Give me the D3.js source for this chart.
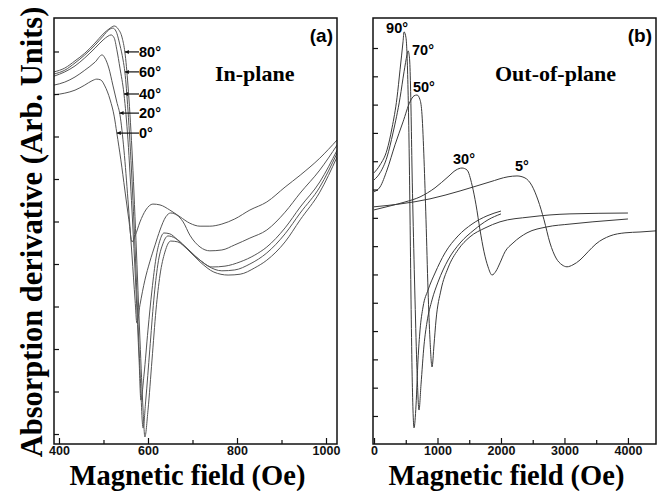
<!DOCTYPE html>
<html>
<head>
<meta charset="utf-8">
<script src="https://cdn.jsdelivr.net/npm/d3@7"></script>
<style>
  body { margin: 0; background: #fff; }
</style>
</head>
<body>
<svg id="chart" width="660" height="491"></svg>
<script>
// (a) in-plane spectra, [field (Oe), signal (arb. units)]
var ip0 = [[389,7.98],[413,8.02],[436,8.09],[458,8.21],[474,8.31],[485,8.35],[494,8.33],[503,8.19],[515,7.86],[524,7.48],[530,7.08],[539,6.45],[548,5.74],[557,5.04],[564,4.52],[571,4.66],[582,4.99],[595,5.27],[611,5.41],[627,5.39],[649,5.27],[672,5.11],[694,4.96],[717,4.89],[739,4.89],[766,4.94],[795,5.06],[829,5.27],[867,5.46],[908,5.81],[942,6.09],[986,6.49],[1025,6.92]];
var ip20 = [[389,8.21],[413,8.28],[436,8.40],[458,8.56],[481,8.75],[497,8.92],[503,8.85],[512,8.61],[521,8.21],[530,7.81],[537,7.51],[546,6.68],[555,5.51],[564,4.21],[571,3.15],[575,2.61],[582,3.04],[593,3.62],[604,4.05],[616,4.45],[627,4.80],[640,5.11],[651,5.20],[665,5.15],[679,4.99],[694,4.68],[717,4.40],[739,4.31],[766,4.33],[795,4.45],[829,4.61],[867,4.80],[908,5.22],[942,5.67],[986,6.21],[1025,6.80]];
var ip40 = [[389,8.42],[413,8.52],[436,8.66],[458,8.85],[481,9.08],[499,9.27],[510,9.36],[517,9.39],[524,9.32],[530,9.04],[537,8.61],[546,8.00],[555,6.92],[564,5.27],[573,3.39],[580,1.74],[584,0.80],[591,1.39],[600,2.45],[609,3.39],[618,4.14],[627,4.56],[636,4.73],[649,4.71],[667,4.56],[690,4.33],[717,4.09],[744,3.93],[773,3.95],[807,4.05],[840,4.21],[867,4.40],[908,4.85],[942,5.34],[986,5.93],[1025,6.68]];
var ip60 = [[389,8.47],[413,8.56],[436,8.73],[458,8.92],[481,9.15],[499,9.36],[512,9.51],[521,9.55],[528,9.48],[537,9.15],[544,8.80],[548,8.52],[555,7.62],[564,5.98],[573,3.86],[582,1.51],[589,0.14],[595,0.80],[604,1.98],[613,3.15],[622,3.98],[634,4.49],[645,4.66],[661,4.61],[683,4.42],[706,4.19],[735,3.95],[766,3.84],[795,3.86],[829,4.00],[867,4.26],[908,4.71],[942,5.20],[986,5.81],[1025,6.61]];
var ip80 = [[389,8.52],[413,8.61],[436,8.78],[458,8.96],[481,9.20],[499,9.41],[515,9.55],[524,9.60],[533,9.53],[542,9.32],[548,8.99],[555,8.21],[564,6.68],[573,4.56],[582,2.21],[589,0.56],[593,-0.07],[600,0.56],[609,1.74],[618,2.92],[627,3.74],[638,4.28],[651,4.54],[667,4.52],[690,4.33],[717,4.05],[748,3.81],[780,3.74],[807,3.76],[840,3.91],[867,4.09],[908,4.52],[942,5.04],[986,5.69],[1025,6.52]];

// (b) out-of-plane spectra
var op90 = [[0,8.59],[95,8.87],[205,9.40],[284,10.18],[362,11.24],[410,12.23],[457,13.22],[473,13.57],[504,13.36],[520,12.76],[536,11.52],[551,9.75],[567,7.10],[583,4.10],[599,1.63],[614,0.21],[630,-0.42],[662,0.39],[693,1.98],[725,3.04],[772,3.85],[851,4.45],[961,5.05],[1118,5.76],[1323,6.36],[1544,6.78],[1780,7.07],[2000,7.24]];
var op70 = [[0,8.34],[95,8.59],[205,9.15],[299,10.00],[410,11.24],[473,12.16],[520,12.76],[536,12.90],[551,12.79],[567,12.30],[583,10.81],[599,8.69],[614,7.10],[646,4.10],[677,1.63],[709,0.21],[740,1.10],[788,2.51],[835,3.32],[914,4.10],[1008,4.73],[1166,5.51],[1355,6.11],[1575,6.57],[1796,6.93],[2000,7.14]];
var op50 = [[0,7.92],[95,8.09],[205,8.69],[331,9.58],[457,10.39],[567,11.10],[630,11.31],[677,11.34],[725,11.17],[756,10.64],[788,9.05],[819,6.93],[851,4.45],[882,2.69],[914,1.73],[945,2.51],[977,3.39],[1055,4.45],[1166,5.23],[1323,5.87],[1512,6.33],[1748,6.64],[1985,6.86],[2457,7.03],[3087,7.14],[4000,7.17]];
var op30 = [[0,7.28],[252,7.42],[488,7.56],[725,7.74],[961,8.06],[1166,8.45],[1292,8.69],[1386,8.76],[1465,8.69],[1544,8.16],[1607,7.46],[1670,6.57],[1733,5.80],[1796,5.27],[1859,4.98],[1922,5.12],[1985,5.41],[2063,5.80],[2189,6.11],[2410,6.47],[2725,6.68],[3087,6.78],[3449,6.86],[4000,6.96]];
var op5 = [[0,7.39],[410,7.49],[882,7.67],[1355,7.95],[1827,8.27],[2111,8.45],[2252,8.48],[2378,8.41],[2489,8.13],[2583,7.63],[2678,6.93],[2772,6.11],[2867,5.58],[2961,5.34],[3040,5.27],[3134,5.34],[3245,5.51],[3371,5.80],[3497,6.08],[3717,6.36],[3953,6.47],[4190,6.50],[4442,6.54],[4500,6.55]];

var anglesA = ["80°", "60°", "40°", "20°", "0°"];
var anglesB = ["90°", "70°", "50°", "30°", "5°"];
var xMajorA = [400, 600, 800, 1000], xMinorA = [500, 700, 900];
var xMajorB = [0, 1000, 2000, 3000, 4000], xMinorB = [500, 1500, 2500, 3500];
var yTicksA = d3.range(0, 10), yTicksB = d3.range(0, 14);

var svg = d3.select("#chart");
var plotTop = 18, plotBottom = 444;
var serif = "'Liberation Serif', 'Times New Roman', serif";
var sans = "'Liberation Sans', Arial, sans-serif";

function panel(o) {
  var x = d3.scaleLinear().domain(o.xDomain).range([o.left, o.right]);
  var y = d3.scaleLinear().domain(o.yDomain).range([plotBottom, plotTop]);

  svg.append("clipPath").attr("id", "clip" + o.id)
    .append("rect")
    .attr("x", o.left).attr("y", plotTop)
    .attr("width", o.right - o.left).attr("height", plotBottom - plotTop);

  var line = d3.line()
    .x(d => x(d[0]))
    .y(d => y(d[1]))
    .curve(d3.curveMonotoneX);

  svg.append("g").attr("clip-path", "url(#clip" + o.id + ")")
    .selectAll("path")
    .data(o.series)
    .enter()
    .append("path")
    .attr("d", line)
    .attr("fill", "none")
    .attr("stroke", o.stroke)
    .attr("stroke-width", 1);

  // ticks point inward
  svg.append("g").attr("transform", "translate(0," + plotBottom + ")")
    .call(d3.axisBottom(x).tickValues(o.xMinor).tickSize(-4).tickFormat(""))
    .call(g => g.select(".domain").remove());
  svg.append("g").attr("transform", "translate(0," + plotBottom + ")")
    .call(d3.axisBottom(x).tickValues(o.xMajor).tickSize(-6).tickPadding(2).tickFormat(d3.format("d")))
    .call(g => g.select(".domain").remove())
    .call(g => g.selectAll("text")
      .attr("font-family", sans).attr("font-weight", "bold")
      .attr("font-size", 12.5).attr("fill", "#111"));
  svg.append("g").attr("transform", "translate(" + o.left + ",0)")
    .call(d3.axisLeft(y).tickValues(o.yTicks).tickSize(-5).tickFormat(""))
    .call(g => g.select(".domain").remove());
  svg.selectAll(".tick line").attr("stroke", "#111").attr("stroke-width", 1.2);

  svg.append("rect")
    .attr("x", o.left).attr("y", plotTop)
    .attr("width", o.right - o.left).attr("height", plotBottom - plotTop)
    .attr("fill", "none").attr("stroke", "#111").attr("stroke-width", 1.5);

  svg.append("text")
    .attr("x", o.right - 4).attr("y", 42)
    .attr("text-anchor", "end")
    .attr("font-family", sans).attr("font-weight", "bold").attr("font-size", 19)
    .text(o.tag);

  svg.append("text")
    .attr("x", o.titleX).attr("y", 81)
    .attr("font-family", serif).attr("font-weight", "bold").attr("font-size", 22)
    .text(o.title);

  svg.append("text")
    .attr("x", (o.left + o.right) / 2 - 8).attr("y", 485)
    .attr("text-anchor", "middle")
    .attr("font-family", serif).attr("font-weight", "bold").attr("font-size", 28.5)
    .text("Magnetic field (Oe)");

  return {x: x, y: y};
}

var a = panel({
  id: "a", left: 54, right: 337,
  xDomain: [388.8, 1024.7], yDomain: [-0.235, 9.788],
  xMajor: xMajorA, xMinor: xMinorA, yTicks: yTicksA,
  series: [ip0, ip20, ip40, ip60, ip80], stroke: "#555",
  tag: "(a)", title: "In-plane", titleX: 215
});

var b = panel({
  id: "b", left: 373, right: 656,
  xDomain: [-16, 4442], yDomain: [-0.99, 14.06],
  xMajor: xMajorB, xMinor: xMinorB, yTicks: yTicksB,
  series: [op90, op70, op50, op30, op5], stroke: "#3a3a3a",
  tag: "(b)", title: "Out-of-plane", titleX: 495
});

// (a) labels with leader lines to the falling edge of each curve
var levelsA = [8.99, 8.52, 8.00, 7.55, 7.08];
[ip80, ip60, ip40, ip20, ip0].forEach(function(s, i) {
  // field where the falling edge crosses the label level
  var k = s.findIndex((d, j) => j > 0 && s[j - 1][1] >= levelsA[i] && d[1] < levelsA[i] && d[0] > 480);
  var p0 = s[k - 1], p1 = s[k];
  var f = p0[0] + (p1[0] - p0[0]) * (p0[1] - levelsA[i]) / (p0[1] - p1[1]);
  var tx = a.x(f), ty = a.y(levelsA[i]);
  svg.append("line")
    .attr("x1", tx).attr("y1", ty).attr("x2", 139).attr("y2", ty)
    .attr("stroke", "#111").attr("stroke-width", 1.2);
  svg.append("path")
    .attr("d", "M" + tx + "," + ty + "l4,-2l0,4z")
    .attr("fill", "#111");
  svg.append("text")
    .attr("x", 139).attr("y", ty + 5)
    .attr("font-family", sans).attr("font-weight", "bold").attr("font-size", 14.5)
    .text(anglesA[i]);
});

// (b) labels at each peak
var offsB = [[4, 1, "end"], [4, 4, "start"], [-4, -3, "start"], [2, -4, "middle"], [5, -5, "middle"]];
[op90, op70, op50, op30, op5].forEach(function(s, i) {
  var pk = d3.greatest(s, d => d[1]);
  svg.append("text")
    .attr("x", b.x(pk[0]) + offsB[i][0]).attr("y", b.y(pk[1]) + offsB[i][1])
    .attr("text-anchor", offsB[i][2])
    .attr("font-family", sans).attr("font-weight", "bold").attr("font-size", 14.5)
    .text(anglesB[i]);
});

svg.append("text")
  .attr("transform", "translate(42,232) rotate(-90)")
  .attr("text-anchor", "middle")
  .attr("font-family", serif).attr("font-weight", "bold").attr("font-size", 30.5)
  .text("Absorption derivative (Arb. Units)");
</script>
</body>
</html>
